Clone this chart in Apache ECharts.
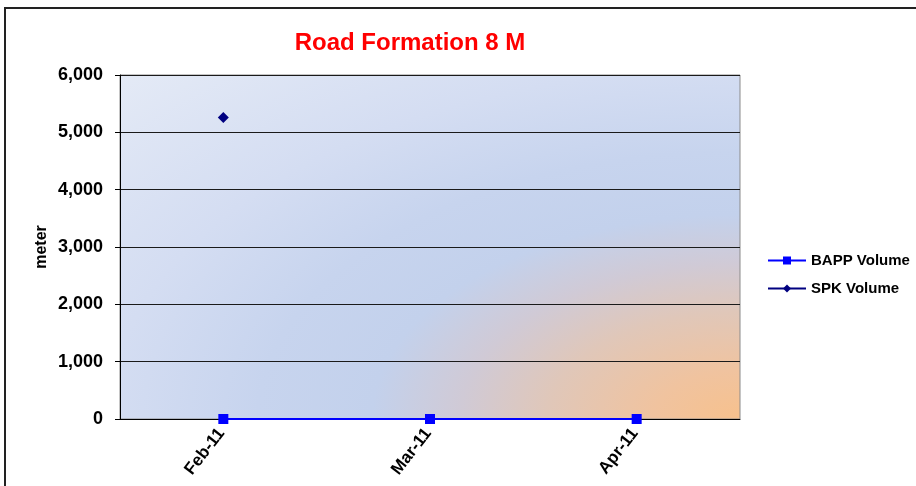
<!DOCTYPE html>
<html>
<head>
<meta charset="utf-8">
<script src="https://cdn.jsdelivr.net/npm/echarts@6/dist/echarts.min.js"></script>
<style>
  html, body { margin: 0; padding: 0; background: #fff; }
  #chart { width: 916px; height: 486px; }
</style>
</head>
<body>
<div id="chart"></div>
<script>
// data
const months = ['Feb-11', 'Mar-11', 'Apr-11'];
const bappVolume = [0, 0, 0];
const spkVolume = [5260, '-', '-'];
const yTicks = { min: 0, max: 6000, interval: 1000 };

// plot box
const gx = 120, gy = 75, gw = 620, gh = 344;

const chart = echarts.init(document.getElementById('chart'));

const option = {
  animation: false,
  textStyle: { fontFamily: 'Liberation Sans, Arial, sans-serif' },
  title: {
    text: 'Road Formation 8 M',
    left: 405,
    textAlign: 'center',
    top: 26,
    textStyle: { color: '#ff0000', fontSize: 24, fontWeight: 'bold' },
  },
  graphic: [
    // plot area fill: elliptical sunset glow from the lower right corner
    {
      type: 'rect',
      z: -10,
      silent: true,
      x: gx,
      y: gy,
      scaleX: gw / gh,
      shape: { x: 0, y: 0, width: gh, height: gh },
      style: {
        fill: {
          type: 'radial',
          x: 1,
          y: 1,
          r: 1.414,
          colorStops: [
            { offset: 0, color: '#f7c18d' },
            { offset: 0.1, color: '#f0c39f' },
            { offset: 0.22, color: '#e0c7b9' },
            { offset: 0.32, color: '#d0cad6' },
            { offset: 0.42, color: '#c3d1ec' },
            { offset: 0.55, color: '#c7d4ee' },
            { offset: 0.72, color: '#d4ddf2' },
            { offset: 1, color: '#e4eaf6' },
          ],
        },
      },
    },
    {
      type: 'rect',
      shape: { x: 5, y: 8, width: 1000, height: 1000 },
      style: { fill: 'none', stroke: '#222', lineWidth: 2 },
      silent: true,
    },
  ],
  legend: {
    orient: 'vertical',
    left: 767,
    top: 253,
    padding: 0,
    itemGap: 13,
    itemWidth: 38,
    itemHeight: 10,
    textStyle: { fontSize: 15, fontWeight: 'bold', color: '#000' },
    data: ['BAPP Volume', 'SPK Volume'],
  },
  grid: {
    left: gx,
    top: gy,
    width: gw,
    height: gh,
    show: true,
    borderColor: '#8a8a8a',
    borderWidth: 1,
    backgroundColor: 'transparent',
  },
  xAxis: {
    type: 'category',
    data: months,
    boundaryGap: true,
    axisLine: { lineStyle: { color: '#000', width: 1 } },
    axisTick: { show: false },
    axisLabel: {
      rotate: 52,
      color: '#000',
      fontSize: 17,
      fontWeight: 'bold',
      margin: 9,
      padding: [0, 3, 0, 0],
    },
  },
  yAxis: {
    type: 'value',
    min: yTicks.min,
    max: yTicks.max,
    interval: yTicks.interval,
    name: 'meter',
    nameLocation: 'middle',
    nameGap: 70,
    nameMoveOverlap: false,
    nameTextStyle: { fontSize: 16, fontWeight: 'bold', color: '#000' },
    axisLine: { show: true, lineStyle: { color: '#000', width: 1 } },
    axisTick: { show: true, length: 5, lineStyle: { color: '#000' } },
    splitLine: { lineStyle: { color: '#1a1a1a', width: 1 } },
    axisLabel: {
      color: '#000',
      fontSize: 18,
      fontWeight: 'bold',
      margin: 17,
      formatter: v => v.toLocaleString('en-US'),
    },
  },
  series: [
    {
      name: 'BAPP Volume',
      type: 'line',
      data: bappVolume,
      symbol: 'rect',
      symbolSize: 10,
      showAllSymbol: true,
      itemStyle: { color: '#0000ff' },
      lineStyle: { color: '#0000ff', width: 2 },
      z: 3,
    },
    {
      name: 'SPK Volume',
      type: 'line',
      data: spkVolume,
      symbol: 'diamond',
      symbolSize: 11,
      showAllSymbol: true,
      itemStyle: { color: '#000080' },
      lineStyle: { color: '#000080', width: 2 },
      z: 2,
    },
  ],
};

chart.setOption(option);
</script>
</body>
</html>
